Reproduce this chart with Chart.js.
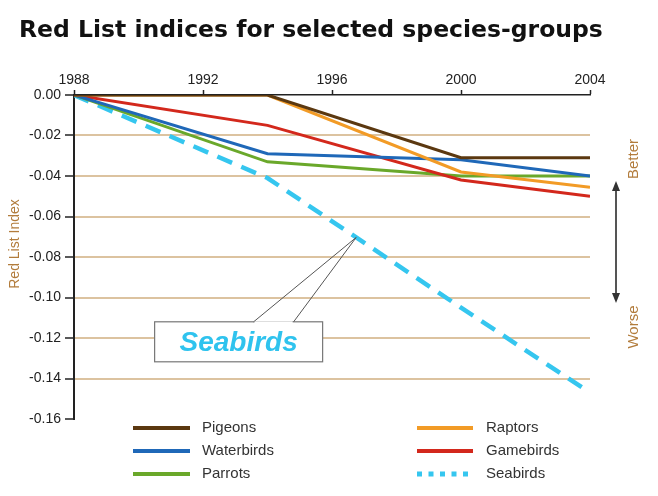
<!DOCTYPE html>
<html>
<head>
<meta charset="utf-8">
<script src="https://cdn.jsdelivr.net/npm/chart.js@4.4.1/dist/chart.umd.min.js"></script>
<style>
  html, body { margin: 0; padding: 0; background: #fff; }
  #wrap { width: 658px; height: 496px; }
</style>
</head>
<body>
<div id="wrap"><canvas id="rli" width="658" height="496"></canvas></div>
<script>
// years where the index was assessed
const years = [1988, 1994, 2000, 2004];
const yearTicks = [1988, 1992, 1996, 2000, 2004];

// Red List index change per group
const pigeons    = [0, 0, -0.031, -0.031];
const raptors    = [0, 0, -0.038, -0.0455];
const waterbirds = [0, -0.029, -0.032, -0.040];
const gamebirds  = [0, -0.015, -0.042, -0.050];
const parrots    = [0, -0.033, -0.040, -0.040];
const seabirds   = [0, -0.041, -0.105, -0.147];

const groupNames = ['Pigeons', 'Raptors', 'Waterbirds', 'Gamebirds', 'Parrots', 'Seabirds'];
const groupColors = ['#5b3810', '#f29b26', '#1f68b8', '#d3281c', '#6aa82a', '#35c6ef'];
const groupValues = [pigeons, raptors, waterbirds, gamebirds, parrots, seabirds];

const toPoints = vals => vals.map((v, i) => ({ x: years[i], y: v }));

const datasets = groupNames.map((name, i) => ({
    label: name,
    data: toPoints(groupValues[i]),
    borderColor: groupColors[i],
    backgroundColor: groupColors[i],
    borderWidth: name === 'Seabirds' ? 4.5 : 3,
    borderDash: name === 'Seabirds' ? [16, 10] : [],
    pointRadius: 0,
    tension: 0,
    fill: false,
    order: name === 'Seabirds' ? 10 : i
}));

// title, side labels, legend and the callout
const extras = {
    id: 'extras',
    afterDraw(chart) {
        const ctx = chart.ctx;
        const xs = chart.scales.x, ys = chart.scales.y;
        ctx.save();

        // title
        ctx.fillStyle = '#111';
        ctx.font = 'bold 23.5px "DejaVu Sans"';
        ctx.textBaseline = 'alphabetic';
        ctx.textAlign = 'left';
        ctx.fillText('Red List indices for selected species-groups', 19, 37);

        // y axis title
        ctx.fillStyle = '#b27c3c';
        ctx.font = '14px "Liberation Sans"';
        ctx.textAlign = 'center';
        ctx.textBaseline = 'middle';
        ctx.save();
        ctx.translate(15, 244);
        ctx.rotate(-Math.PI / 2);
        ctx.fillText('Red List Index', 0, 0);
        ctx.restore();

        // better / worse
        ctx.font = '15px "Liberation Sans"';
        ctx.save();
        ctx.translate(634, 159);
        ctx.rotate(-Math.PI / 2);
        ctx.fillText('Better', 0, 0);
        ctx.restore();
        ctx.save();
        ctx.translate(634, 327);
        ctx.rotate(-Math.PI / 2);
        ctx.fillText('Worse', 0, 0);
        ctx.restore();

        // double arrow
        ctx.strokeStyle = '#555';
        ctx.fillStyle = '#333';
        ctx.lineWidth = 2;
        ctx.beginPath();
        ctx.moveTo(616, 188);
        ctx.lineTo(616, 296);
        ctx.stroke();
        ctx.beginPath();
        ctx.moveTo(616, 181); ctx.lineTo(612, 191); ctx.lineTo(620, 191); ctx.closePath();
        ctx.fill();
        ctx.beginPath();
        ctx.moveTo(616, 303); ctx.lineTo(612, 293); ctx.lineTo(620, 293); ctx.closePath();
        ctx.fill();

        // callout pointing at the seabirds line
        const tipYear = 1996.75;
        const sbA = seabirds[1], sbB = seabirds[2];
        const tipVal = sbA + (sbB - sbA) * (tipYear - years[1]) / (years[2] - years[1]);
        const tx = xs.getPixelForValue(tipYear), ty = ys.getPixelForValue(tipVal);
        const bx = xs.getPixelForValue(1990.5), bw = 168, bh = 40;
        const by = ys.getPixelForValue(-0.112);
        ctx.fillStyle = '#fff';
        ctx.strokeStyle = '#777';
        ctx.lineWidth = 1.2;
        ctx.fillRect(bx, by, bw, bh);
        ctx.strokeRect(bx, by, bw, bh);
        ctx.strokeStyle = '#555';
        ctx.lineWidth = 1;
        ctx.beginPath();
        ctx.moveTo(bx + 99, by);
        ctx.lineTo(tx, ty);
        ctx.lineTo(bx + 139, by);
        ctx.stroke();
        ctx.fillStyle = '#fff';
        ctx.fillRect(bx + 100, by - 0.5, 38, 2);
        ctx.fillStyle = '#2fc3ee';
        ctx.font = 'italic bold 28px "Liberation Sans"';
        ctx.textAlign = 'center';
        ctx.fillText('Seabirds', bx + bw / 2, by + bh / 2 + 1);

        // legend in two columns
        const cols = [[133, 190, 202], [417, 473, 486]];
        const rows = [428, 451, 474];
        ctx.font = '15px "Liberation Sans"';
        ctx.textAlign = 'left';
        ctx.textBaseline = 'middle';
        groupNames.forEach((name, i) => {
            const c = cols[i % 2], yy = rows[Math.floor(i / 2)];
            if (name === 'Seabirds') {
                ctx.fillStyle = groupColors[i];
                for (let k = 0; k < 5; k++) ctx.fillRect(c[0] + k * 11.5, yy - 2.5, 5, 5);
            } else {
                ctx.strokeStyle = groupColors[i];
                ctx.lineWidth = 4;
                ctx.beginPath();
                ctx.moveTo(c[0], yy);
                ctx.lineTo(c[1], yy);
                ctx.stroke();
            }
            ctx.fillStyle = '#333';
            ctx.fillText(name, c[2], yy);
        });

        ctx.restore();
    }
};

new Chart(document.getElementById('rli').getContext('2d'), {
    type: 'line',
    data: { datasets: datasets },
    options: {
        responsive: false,
        animation: false,
        layout: { padding: { left: 0, right: 68, top: 0, bottom: 77 } },
        plugins: {
            legend: { display: false },
            title: { display: false },
            tooltip: { enabled: false }
        },
        scales: {
            x: {
                type: 'linear',
                position: 'top',
                min: 1988,
                max: 2004,
                afterFit: s => { s.height = 95; },
                afterBuildTicks: s => { s.ticks = yearTicks.map(v => ({ value: v })); },
                ticks: {
                    color: '#222',
                    font: { family: 'Liberation Sans', size: 14 },
                    padding: 1,
                    maxRotation: 0,
                    callback: v => String(v)
                },
                grid: {
                    drawOnChartArea: false,
                    drawTicks: true,
                    tickLength: 5,
                    tickColor: '#222',
                    tickWidth: 1.5
                },
                border: { color: '#222', width: 1.5 }
            },
            y: {
                min: -0.16,
                max: 0,
                afterFit: s => { s.width = 74; },
                ticks: {
                    stepSize: 0.02,
                    color: '#222',
                    font: { family: 'Liberation Sans', size: 14 },
                    padding: 4,
                    callback: v => v.toFixed(2)
                },
                grid: {
                    color: c => (c.tick && (c.tick.value === 0 || c.tick.value <= -0.159)) ? 'rgba(0,0,0,0)' : '#dcc3a0',
                    lineWidth: 2,
                    tickLength: 9,
                    tickColor: '#222',
                    tickWidth: 1.5
                },
                border: { color: '#222', width: 2 }
            }
        }
    },
    plugins: [extras]
});
</script>
</body>
</html>
